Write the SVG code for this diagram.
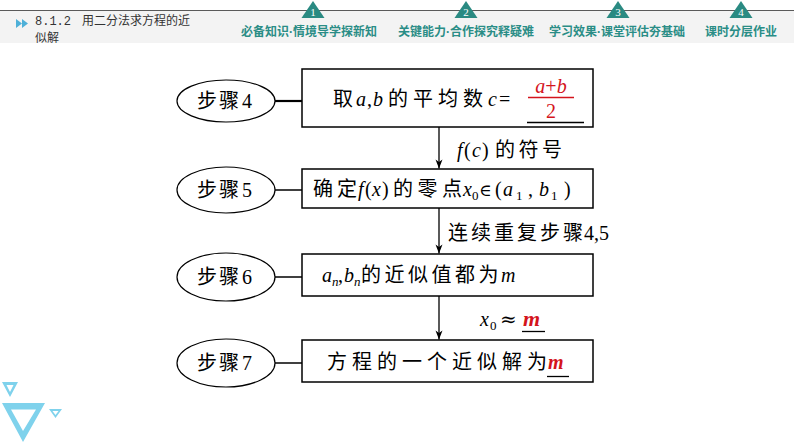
<svg xmlns="http://www.w3.org/2000/svg" width="794" height="446" viewBox="0 0 794 446">
<style>
.cjk{font-family:"Noto Sans CJK SC","Noto Sans",sans-serif;}
.ser{font-family:"Liberation Serif","DejaVu Serif",serif;}
.it{font-style:italic;}
.t{font-size:20px;fill:#000;}
.red,.t .red,.t.red{fill:#d4141c;}
.hd{font-family:"Noto Sans CJK SC",sans-serif;font-size:12px;font-weight:bold;fill:#2a8d86;}
.dot{font-family:"Liberation Sans",sans-serif;}
.num{font-family:"Liberation Serif",serif;font-size:11px;fill:#ffffff;}
.node ellipse{fill:#ffffff;stroke:#000;stroke-width:1.2;}
.node rect{fill:#ffffff;stroke:#000;stroke-width:1.5;}
</style>
<defs>
<marker id="ah" viewBox="-10 -5 11 10" refX="0" refY="0" markerWidth="11" markerHeight="10" markerUnits="userSpaceOnUse" orient="auto">
<path d="M0,0 L-9,-3.5 L-6.5,0 L-9,3.5 Z" fill="#000"/>
</marker>
</defs>
<rect width="794" height="446" fill="#ffffff"/>
<!-- header -->
<g id="header">
<rect x="0" y="10" width="794" height="33" fill="#f3f3f3"/>
<line x1="0" y1="10.5" x2="794" y2="10.5" stroke="#5a5a5a" stroke-width="1.2"/>
<polygon points="16,19 22,23.5 16,28" fill="#4eb0d8"/>
<polygon points="22,19 28,23.5 22,28" fill="#4eb0d8"/>
<text x="35" y="25" font-family="Liberation Mono,monospace" font-size="12" fill="#333">8.1.2</text>
<text x="82" y="25" class="cjk" font-size="12" fill="#333">用二分法求方程的近</text>
<text x="35" y="42" class="cjk" font-size="12" fill="#333">似解</text>
<polygon points="313,1 301.5,18 324.5,18" fill="#2a8a82"/>
<text x="313" y="15.5" text-anchor="middle" class="num">1</text>
<polygon points="466,1 454.5,18 477.5,18" fill="#2a8a82"/>
<text x="466" y="15.5" text-anchor="middle" class="num">2</text>
<polygon points="618,1 606.5,18 629.5,18" fill="#2a8a82"/>
<text x="618" y="15.5" text-anchor="middle" class="num">3</text>
<polygon points="741,1 729.5,18 752.5,18" fill="#2a8a82"/>
<text x="741" y="15.5" text-anchor="middle" class="num">4</text>
<text x="309" y="36" text-anchor="middle" class="hd">必备知识<tspan class="dot">·</tspan>情境导学探新知</text>
<text x="466" y="36" text-anchor="middle" class="hd">关键能力<tspan class="dot">·</tspan>合作探究释疑难</text>
<text x="617" y="36" text-anchor="middle" class="hd">学习效果<tspan class="dot">·</tspan>课堂评估夯基础</text>
<text x="741" y="36" text-anchor="middle" class="hd">课时分层作业</text>
</g>
<!-- connectors -->
<g id="connectors" stroke="#000" fill="none">
<line x1="275" y1="101" x2="302" y2="101" stroke-width="2.2"/>
<line x1="275" y1="190" x2="302" y2="190" stroke-width="1.5"/>
<line x1="275" y1="277" x2="302" y2="277" stroke-width="1.5"/>
<line x1="275" y1="363" x2="302" y2="363" stroke-width="1.5"/>
<line x1="439" y1="127" x2="439" y2="168.5" stroke-width="1.3" marker-end="url(#ah)"/>
<line x1="439" y1="208" x2="439" y2="253.5" stroke-width="1.3" marker-end="url(#ah)"/>
<line x1="439" y1="296" x2="439" y2="339.5" stroke-width="1.3" marker-end="url(#ah)"/>
</g>
<!-- edge labels -->
<g id="edge-labels">
<text y="157" class="t ser" font-size="21"><tspan x="457" class="it">f</tspan><tspan x="464">(</tspan><tspan x="472" class="it">c</tspan><tspan x="482">)</tspan></text>
<text x="495 518.5 542" y="157" class="t cjk">的符号</text>
<text x="448 471 494 517 540 563" y="240" class="t cjk">连续重复步骤</text>
<text x="584" y="240" class="t ser">4,5</text>
<text y="326" class="t ser" font-size="21"><tspan x="480" class="it">x</tspan><tspan x="490" dy="4" font-size="13">0</tspan><tspan x="500" dy="-4" font-family="DejaVu Serif" font-size="20">≈</tspan><tspan x="523" class="it red" font-weight="bold" font-size="22">m</tspan></text>
<line x1="522" y1="331.5" x2="545" y2="331.5" stroke="#000" stroke-width="1.3"/>
</g>
<!-- step nodes -->
<g id="step4" class="node">
<ellipse cx="226" cy="101" rx="49" ry="21"/>
<text x="197 219" y="108" class="t cjk" font-size="21">步骤</text>
<text x="242" y="108" class="t ser" font-size="22">4</text>
</g>
<g id="box4" class="node">
<rect x="302" y="69" width="291" height="58"/>
<text x="333" y="106" class="t cjk">取</text>
<text y="106" class="t ser" font-size="21"><tspan x="356" class="it">a</tspan><tspan x="367">,</tspan><tspan x="373" class="it">b</tspan></text>
<text x="388 413 438 463" y="106" class="t cjk">的平均数</text>
<text y="106" class="t ser" font-size="21"><tspan x="488" class="it">c</tspan><tspan x="499">=</tspan></text>
<text x="551" y="93" text-anchor="middle" class="t ser red" font-size="21"><tspan class="it">a</tspan>+<tspan class="it">b</tspan></text>
<line x1="528" y1="97.5" x2="574" y2="97.5" stroke="#d4141c" stroke-width="1.4"/>
<text x="551" y="118" text-anchor="middle" class="t ser red" font-size="21">2</text>
<line x1="527" y1="122.5" x2="584" y2="122.5" stroke="#000" stroke-width="1.3"/>
</g>
<g id="step5" class="node">
<ellipse cx="226" cy="190" rx="49" ry="23"/>
<text x="197 219" y="197" class="t cjk" font-size="21">步骤</text>
<text x="242" y="197" class="t ser" font-size="22">5</text>
</g>
<g id="box5" class="node">
<rect x="302" y="169" width="291" height="39"/>
<text x="313 337" y="196" class="t cjk">确定</text>
<text y="196" class="t ser" font-size="21"><tspan x="358" class="it">f</tspan><tspan x="365">(</tspan><tspan x="372" class="it">x</tspan><tspan x="382">)</tspan></text>
<text x="393 417.5 442" y="196" class="t cjk">的零点</text>
<text y="196" class="t ser" font-size="21"><tspan x="463" class="it">x</tspan><tspan x="472" dy="4" font-size="13">0</tspan><tspan x="479" dy="-4" font-family="DejaVu Serif" font-size="17">∈</tspan><tspan x="495">(</tspan><tspan x="503" class="it">a</tspan><tspan x="516" dy="4" font-size="13">1</tspan><tspan x="528" dy="-4">,</tspan><tspan x="539" class="it">b</tspan><tspan x="551" dy="4" font-size="13">1</tspan><tspan x="564" dy="-4">)</tspan></text>
</g>
<g id="step6" class="node">
<ellipse cx="226" cy="277" rx="49" ry="24"/>
<text x="197 219" y="284" class="t cjk" font-size="21">步骤</text>
<text x="242" y="284" class="t ser" font-size="22">6</text>
</g>
<g id="box6" class="node">
<rect x="302" y="254" width="291" height="42"/>
<text y="282" class="t ser" font-size="21"><tspan x="322" class="it">a</tspan><tspan x="332" dy="4" class="it" font-size="13">n</tspan><tspan x="338" dy="-4">,</tspan><tspan x="344" class="it">b</tspan><tspan x="354" dy="4" class="it" font-size="13">n</tspan></text>
<text x="361 384.5 408 431.5 455 478.5" y="282" class="t cjk">的近似值都为</text>
<text x="501" y="282" class="t ser it" font-size="22">m</text>
</g>
<g id="step7" class="node">
<ellipse cx="226" cy="363" rx="49" ry="24"/>
<text x="197 219" y="370" class="t cjk" font-size="21">步骤</text>
<text x="242" y="370" class="t ser" font-size="22">7</text>
</g>
<g id="box7" class="node">
<rect x="302" y="340" width="291" height="42"/>
<text x="327 352 377 402 427 452 477 502 527" y="369" class="t cjk">方程的一个近似解为</text>
<text x="548" y="369" class="t ser it red" font-size="22" font-weight="bold">m</text>
<line x1="547" y1="376.5" x2="569" y2="376.5" stroke="#000" stroke-width="1.3"/>
</g>
<!-- decoration -->
<g id="decoration" fill="#7fd2ec" fill-rule="evenodd">
<path d="M2,382 L18,382 L10,397 Z M6.5,385 L13.5,385 L10,392 Z"/>
<path d="M2,403 L45,403 L23,442 Z M11,409.5 L36,409.5 L23,431 Z"/>
<path d="M49,409 L62,409 L55.5,418 Z M52.5,411 L58.5,411 L55.5,415 Z"/>
</g>
</svg>
